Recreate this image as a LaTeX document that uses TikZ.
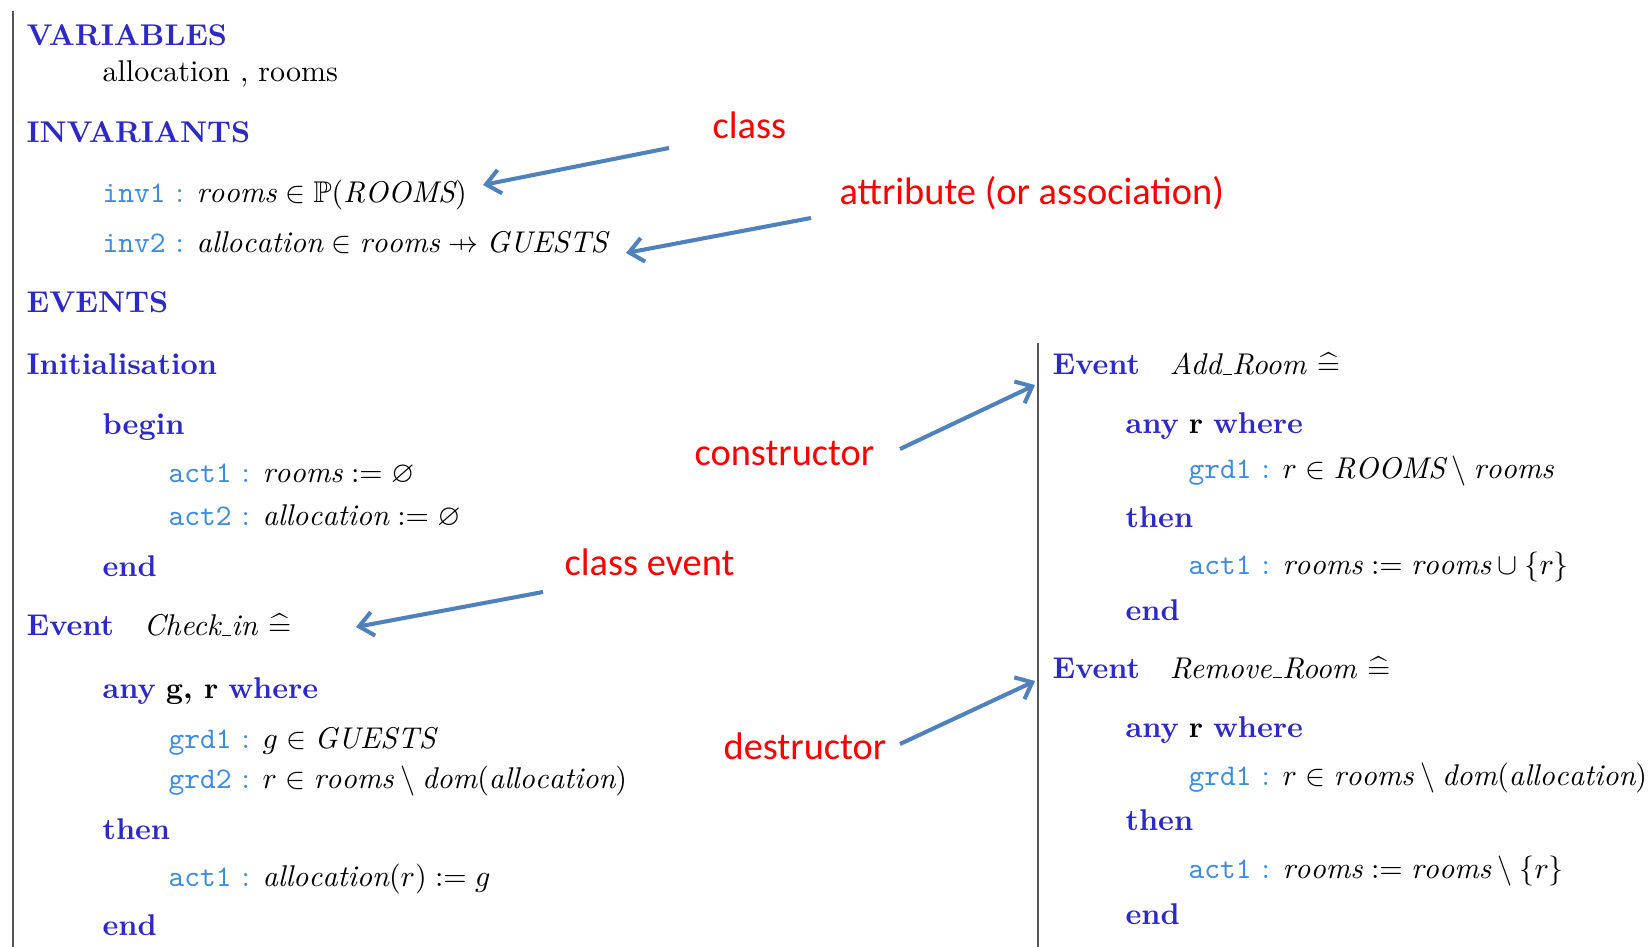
\documentclass[tikz,border=0pt]{standalone}
\usepackage{fontspec}
\usepackage{amssymb}
\usetikzlibrary{arrows.meta}
\newfontfamily\notefont{Carlito}
\definecolor{kwblue}{RGB}{45,40,200}
\definecolor{lblblue}{RGB}{60,140,225}
\definecolor{arrowblue}{RGB}{79,129,189}
\definecolor{rulegray}{RGB}{85,85,85}
\newcommand{\kw}[1]{\textcolor{kwblue}{\textbf{#1}}}
\newcommand{\lab}[1]{\textcolor{lblblue}{\texttt{#1}\ :}\hspace{4.2pt}}
\newcommand{\id}[1]{\mathit{#1}}
\newcommand{\us}{\kern.06em\vbox{\hrule width.3em}}
\newcommand{\pfun}{\mathrel{\ooalign{\hfil$\mapstochar\mkern4mu$\hfil\cr$\rightarrow$\cr}}}
\tikzset{
	txt/.style={anchor=base west, inner sep=0pt, font=\fontsize{10}{12}\selectfont},
	kwd/.style={txt, kwblue, font=\fontsize{10}{12}\selectfont\bfseries},
	note/.style={anchor=base west, inner sep=0pt, red, font=\notefont\fontsize{12.8}{15}\selectfont},
	pointer/.style={-{Straight Barb[length=4.7pt,width=8pt]}, arrowblue, line width=1.35pt}
}
\begin{document}
\begin{tikzpicture}[x=0.3333pt,y=-0.3333pt]
	\path[use as bounding box] (0,0) rectangle (1648,947);
	\draw[rulegray, line width=0.7pt] (13,11)--(13,947);
	\draw[rulegray, line width=0.7pt] (1038,343)--(1038,947);

	\node[kwd] (vars) at (26,46) {VARIABLES};
	\node[txt] (varlist) at (102,82) {allocation , rooms};
	\node[kwd] (invs) at (26,143) {INVARIANTS};
	\node[txt] (inv1) at (102,203) {\lab{inv1}$\id{rooms}\in\mathbb{P}(\id{ROOMS})$};
	\node[txt] (inv2) at (102,253) {\lab{inv2}$\id{allocation}\in\id{rooms}\pfun\id{GUESTS}$};
	\node[kwd] (events) at (26,313) {EVENTS};

	\node[kwd] (init) at (26,375) {Initialisation};
	\node[kwd] (ibegin) at (102,435) {begin};
	\node[txt] (iact1) at (168,483) {\lab{act1}$\id{rooms}:=\varnothing$};
	\node[txt] (iact2) at (168,526) {\lab{act2}$\id{allocation}:=\varnothing$};
	\node[kwd] (iend) at (102,577) {end};

	\node[txt] (checkin) at (26,636) {\kw{Event}\quad\textit{Check\us in} $\widehat{=}$};
	\node[txt] (cany) at (102,698) {\kw{any} \textbf{g, r} \kw{where}};
	\node[txt] (cgrd1) at (168,748) {\lab{grd1}$g\in\id{GUESTS}$};
	\node[txt] (cgrd2) at (168,788) {\lab{grd2}$r\in\id{rooms}\setminus\id{dom}(\id{allocation})$};
	\node[kwd] (cthen) at (102,839) {then};
	\node[txt] (cact1) at (168,886) {\lab{act1}$\id{allocation}(r):=g$};
	\node[kwd] (cend) at (102,935) {end};

	\node[txt] (addroom) at (1052,375) {\kw{Event}\quad\textit{Add\us Room} $\widehat{=}$};
	\node[txt] (aany) at (1125,434) {\kw{any} \textbf{r} \kw{where}};
	\node[txt] (agrd1) at (1188,479) {\lab{grd1}$r\in\id{ROOMS}\setminus\id{rooms}$};
	\node[kwd] (athen) at (1125,528) {then};
	\node[txt] (aact1) at (1188,575) {\lab{act1}$\id{rooms}:=\id{rooms}\cup\{r\}$};
	\node[kwd] (aend) at (1125,621) {end};

	\node[txt] (remroom) at (1052,678) {\kw{Event}\quad\textit{Remove\us Room} $\widehat{=}$};
	\node[txt] (rany) at (1125,737) {\kw{any} \textbf{r} \kw{where}};
	\node[txt] (rgrd1) at (1188,785) {\lab{grd1}$r\in\id{rooms}\setminus\id{dom}(\id{allocation})$};
	\node[kwd] (rthen) at (1125,830) {then};
	\node[txt] (ract1) at (1188,878) {\lab{act1}$\id{rooms}:=\id{rooms}\setminus\{r\}$};
	\node[kwd] (rend) at (1125,924) {end};

	\node[note] (nclass) at (712,139) {class};
	\node[note] (nattr) at (839,205) {attribute (or association)};
	\node[note] (ncons) at (694,466) {constructor};
	\node[note] (nevent) at (564,576) {class event};
	\node[note] (ndest) at (723,759) {destructor};

	\coordinate (fclass) at (669,148);
	\coordinate (tclass) at (483,185);
	\coordinate (fattr) at (811,218);
	\coordinate (tattr) at (626,253);
	\coordinate (fcons) at (900,449);
	\coordinate (tcons) at (1035,385);
	\coordinate (fevent) at (543,592);
	\coordinate (tevent) at (356,627);
	\coordinate (fdest) at (900,744);
	\coordinate (tdest) at (1035,681);
	\draw[pointer] (fclass)--(tclass);
	\draw[pointer] (fattr)--(tattr);
	\draw[pointer] (fcons)--(tcons);
	\draw[pointer] (fevent)--(tevent);
	\draw[pointer] (fdest)--(tdest);
\end{tikzpicture}
\end{document}
